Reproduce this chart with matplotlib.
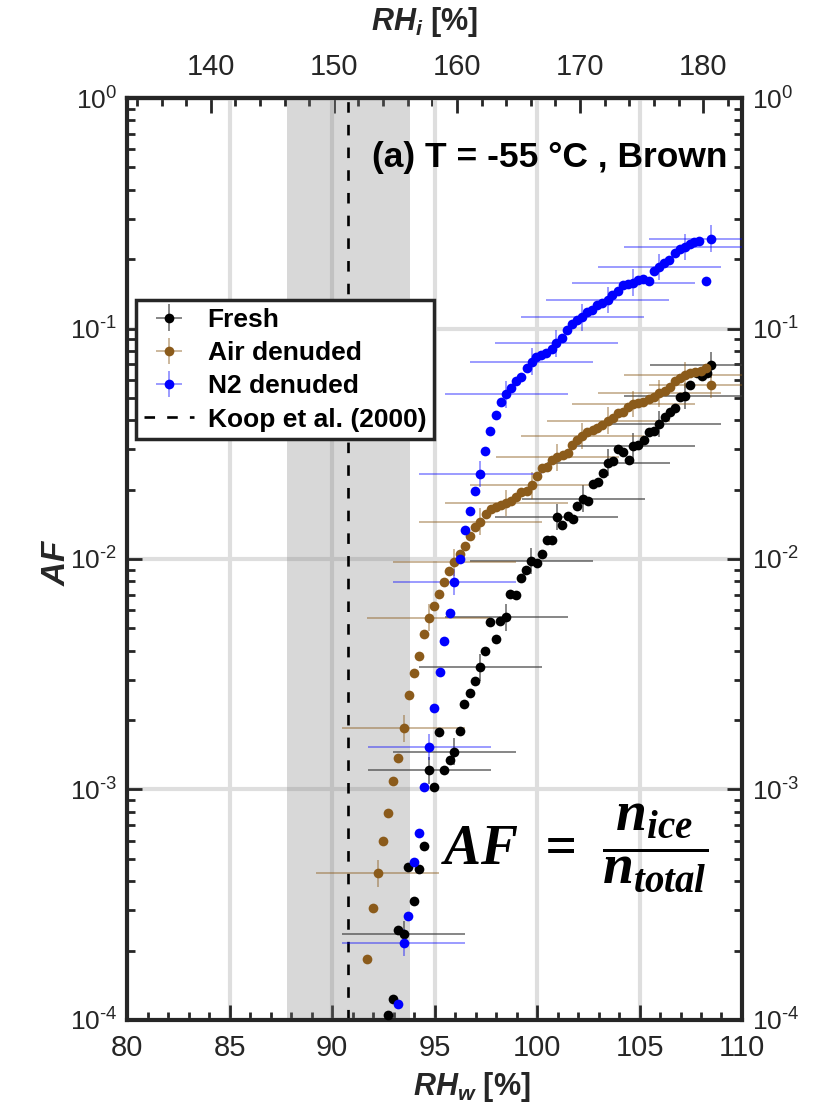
import numpy as np
import matplotlib
matplotlib.use('Agg')
import matplotlib.pyplot as plt
from matplotlib import font_manager
from matplotlib.ticker import (MultipleLocator, LogLocator, NullFormatter, FixedLocator,
                               FuncFormatter)

# ---- data ----
fresh_rhw = [92.73, 92.98, 93.22, 93.49, 93.73, 93.98, 94.25, 94.47, 94.74, 94.99,
             95.23, 95.48, 95.74, 95.96, 96.24, 96.45, 96.73, 96.99, 97.23, 97.47,
             97.72, 97.99, 98.21, 98.49, 98.70, 98.98, 99.22, 99.48, 99.71, 99.99,
             100.24, 100.49, 100.73, 100.97, 101.23, 101.51, 101.76, 101.95, 102.25, 102.49,
             102.74, 102.97, 103.22, 103.47, 103.71, 103.96, 104.20, 104.48, 104.69, 104.94,
             105.23, 105.46, 105.70, 105.97, 106.24, 106.49, 106.73, 106.98, 107.22, 107.46,
             107.79, 108.04, 108.28, 108.49]
fresh_af = [1.05e-4, 1.23e-4, 2.45e-4, 2.36e-4, 4.59e-4, 3.27e-4, 4.53e-4, 5.70e-4, 1.21e-3, 1.03e-3,
            1.78e-3, 1.22e-3, 1.34e-3, 1.46e-3, 1.80e-3, 2.34e-3, 2.61e-3, 2.97e-3, 3.39e-3, 4.00e-3,
            5.33e-3, 4.51e-3, 5.38e-3, 5.58e-3, 7.05e-3, 7.00e-3, 8.30e-3, 8.96e-3, 9.80e-3, 9.58e-3,
            1.05e-2, 1.21e-2, 1.21e-2, 1.52e-2, 1.40e-2, 1.53e-2, 1.49e-2, 1.69e-2, 1.83e-2, 1.78e-2,
            2.11e-2, 2.16e-2, 2.35e-2, 2.62e-2, 2.67e-2, 2.99e-2, 2.92e-2, 2.69e-2, 3.09e-2, 3.12e-2,
            3.28e-2, 3.57e-2, 3.60e-2, 3.85e-2, 4.14e-2, 4.36e-2, 4.51e-2, 5.06e-2, 5.10e-2, 5.69e-2,
            6.40e-2, 6.22e-2, 6.43e-2, 6.95e-2]

air_rhw = [91.72, 91.99, 92.24, 92.49, 92.74, 92.99, 93.24, 93.49, 93.75, 93.98,
           94.25, 94.47, 94.73, 94.99, 95.23, 95.47, 95.73, 95.97, 96.24, 96.50,
           96.75, 96.99, 97.23, 97.49, 97.74, 97.99, 98.23, 98.49, 98.73, 98.98,
           99.22, 99.50, 99.75, 99.99, 100.25, 100.50, 100.74, 100.99, 101.25, 101.50,
           101.72, 101.97, 102.21, 102.46, 102.71, 102.95, 103.19, 103.47, 103.71, 103.96,
           104.20, 104.45, 104.69, 104.94, 105.18, 105.46, 105.70, 105.97, 106.24, 106.49,
           106.73, 106.98, 107.22, 107.46, 107.71, 108.00, 108.25, 108.47]
air_af = [1.83e-4, 3.05e-4, 4.32e-4, 5.98e-4, 7.93e-4, 1.09e-3, 1.37e-3, 1.84e-3, 2.57e-3, 3.19e-3,
          3.80e-3, 4.71e-3, 5.56e-3, 6.27e-3, 7.07e-3, 7.97e-3, 8.91e-3, 9.68e-3, 1.05e-2, 1.14e-2,
          1.26e-2, 1.38e-2, 1.45e-2, 1.57e-2, 1.64e-2, 1.68e-2, 1.72e-2, 1.75e-2, 1.78e-2, 1.86e-2,
          1.95e-2, 1.98e-2, 2.09e-2, 2.29e-2, 2.49e-2, 2.51e-2, 2.69e-2, 2.76e-2, 2.83e-2, 2.87e-2,
          3.12e-2, 3.28e-2, 3.42e-2, 3.57e-2, 3.63e-2, 3.71e-2, 3.81e-2, 3.98e-2, 4.08e-2, 4.31e-2,
          4.35e-2, 4.58e-2, 4.70e-2, 4.73e-2, 4.81e-2, 4.93e-2, 5.06e-2, 5.24e-2, 5.37e-2, 5.60e-2,
          5.94e-2, 6.08e-2, 6.28e-2, 6.43e-2, 6.50e-2, 6.55e-2, 6.72e-2, 5.69e-2]

n2_rhw = [93.24, 93.49, 93.73, 93.98, 94.25, 94.47, 94.74, 94.99, 95.25, 95.47,
          95.74, 95.96, 96.24, 96.50, 96.73, 96.99, 97.22, 97.48, 97.72, 98.00,
          98.25, 98.49, 98.73, 98.98, 99.22, 99.52, 99.75, 99.96, 100.20, 100.45,
          100.73, 100.95, 101.23, 101.48, 101.71, 101.97, 102.20, 102.46, 102.69, 102.95,
          103.18, 103.44, 103.67, 103.93, 104.21, 104.45, 104.70, 104.94, 105.19, 105.46,
          105.72, 105.96, 106.21, 106.45, 106.73, 106.97, 107.22, 107.46, 107.68, 107.90,
          108.23, 108.47]
n2_af = [1.17e-4, 2.16e-4, 2.83e-4, 4.86e-4, 6.50e-4, 1.02e-3, 1.53e-3, 2.25e-3, 3.23e-3, 4.41e-3,
         5.81e-3, 7.94e-3, 1.00e-2, 1.34e-2, 1.61e-2, 1.97e-2, 2.34e-2, 2.95e-2, 3.60e-2, 4.21e-2,
         4.78e-2, 5.18e-2, 5.50e-2, 5.94e-2, 6.18e-2, 6.76e-2, 7.18e-2, 7.50e-2, 7.67e-2, 7.85e-2,
         8.13e-2, 8.63e-2, 9.14e-2, 9.90e-2, 0.1047, 0.109, 0.112, 0.118, 0.120, 0.1265,
         0.129, 0.133, 0.140, 0.146, 0.154, 0.156, 0.158, 0.162, 0.164, 0.160,
         0.178, 0.185, 0.192, 0.198, 0.213, 0.221, 0.226, 0.233, 0.237, 0.239,
         0.161, 0.245]

rhw_err = 3.0          # +/- RHw uncertainty
af_err_factor = 1.143  # multiplicative AF uncertainty
koop_rhw = 90.8
koop_band = (87.8, 93.8)
rhi_per_rhw = 1.665    # RHi / RHw at -55 C

rhw_ticks = [80, 85, 90, 95, 100, 105, 110]
rhi_ticks = [140, 150, 160, 170, 180]

# ---- fonts ----
installed = {f.name for f in font_manager.fontManager.ttflist}
if 'Liberation Sans Narrow' in installed:
    tick_font, tick_size, ytick_size = 'Liberation Sans Narrow', 25, 22
else:
    tick_font, tick_size, ytick_size = 'Liberation Sans', 21, 19

plt.rcParams['font.family'] = ['Liberation Sans', 'DejaVu Sans']
plt.rcParams['mathtext.fontset'] = 'custom'
plt.rcParams['mathtext.it'] = 'Liberation Sans:italic:bold'
plt.rcParams['mathtext.bf'] = 'Liberation Serif:italic:bold'
plt.rcParams['mathtext.rm'] = tick_font
plt.rcParams['mathtext.default'] = 'regular'
plt.rcParams['axes.unicode_minus'] = False

dark = '#262626'
brown = '#8B5B1B'


def decade_label(v, pos):
    e = int(round(np.log10(v)))
    if e < 0:
        return r'$\mathdefault{10^{\text{-}%d}}$' % (-e)
    return r'$\mathdefault{10^{%d}}$' % e


fig = plt.figure(figsize=(8.26, 11.09), dpi=100)
ax = fig.add_axes([0.1538, 0.0803, 0.7445, 0.8313])

ax.set_yscale('log')
ax.set_xlim(80, 110)
ax.set_ylim(1e-4, 1)

ax.set_axisbelow(True)
ax.grid(True, which='major', color='#dedede', lw=3)
ax.axvspan(koop_band[0], koop_band[1], color='gray', alpha=0.3, lw=0, zorder=1)

def plot_series(x, y, color, ecolor, start, label):
    x = np.array(x)
    y = np.array(y)
    yerr = [y - y / af_err_factor, y * af_err_factor - y]
    return ax.errorbar(x, y, xerr=rhw_err, yerr=yerr, fmt='o', ms=7, mfc=color, mec=color,
                       mew=0, ecolor=ecolor, elinewidth=1.1, capsize=0,
                       errorevery=(start, 5), label=label, zorder=3)

h1 = plot_series(fresh_rhw, fresh_af, 'black', (0.25, 0.25, 0.25, 0.8), 3, 'Fresh')
h2 = plot_series(air_rhw, air_af, brown, (0.545, 0.357, 0.106, 0.55), 2, 'Air denuded')
h3 = plot_series(n2_rhw, n2_af, '#0000FF', (0.0, 0.0, 1.0, 0.5), 1, 'N2 denuded')
h4 = ax.axvline(koop_rhw, color='black', ls=(0, (4, 4.6)), lw=1.9, zorder=2,
                label='Koop et al. (2000)')

# ---- axes styling ----
for s in ax.spines.values():
    s.set_linewidth(3)
    s.set_color(dark)

ax.xaxis.set_major_locator(FixedLocator(rhw_ticks))
ax.xaxis.set_minor_locator(MultipleLocator(1))
ax.yaxis.set_major_locator(LogLocator(base=10, numticks=10))
ax.yaxis.set_major_formatter(FuncFormatter(decade_label))
ax.yaxis.set_minor_locator(LogLocator(base=10, subs=np.arange(2, 10), numticks=20))
ax.yaxis.set_minor_formatter(NullFormatter())

ax.tick_params(which='both', direction='in', colors=dark, top=False,
               left=True, right=True, labelright=True)
ax.tick_params(which='major', length=11, width=2)
ax.tick_params(which='minor', length=5.5, width=2)
ax.tick_params(axis='x', pad=10)
ax.tick_params(axis='y', pad=7)
for lab in ax.get_xticklabels():
    lab.set_fontfamily(tick_font)
    lab.set_fontsize(tick_size)
for lab in ax.get_yticklabels():
    lab.set_fontfamily(tick_font)
    lab.set_fontsize(ytick_size)

sec = ax.secondary_xaxis('top', functions=(lambda x: x * rhi_per_rhw, lambda x: x / rhi_per_rhw))
sec.xaxis.set_major_locator(FixedLocator(rhi_ticks))
sec.xaxis.set_minor_locator(MultipleLocator(2))
sec.tick_params(which='both', direction='in', colors=dark, pad=12)
sec.tick_params(which='major', length=11, width=2)
sec.tick_params(which='minor', length=5.5, width=2)
sec.spines['top'].set_linewidth(3)
sec.spines['top'].set_color(dark)
for lab in sec.get_xticklabels():
    lab.set_fontfamily(tick_font)
    lab.set_fontsize(tick_size)

# ---- labels ----
ax.text(0.561, -0.073, r'$\mathit{RH}_{\mathit{w}}$ [%]', transform=ax.transAxes,
        ha='center', va='center', fontsize=22, fontweight='bold', color=dark)
ax.text(0.484, 1.083, r'$\mathit{RH}_{\mathit{i}}$ [%]', transform=ax.transAxes,
        ha='center', va='center', fontsize=22, fontweight='bold', color=dark)
ax.text(-0.114, 0.497, r'$\mathit{AF}$', transform=ax.transAxes, rotation=90,
        ha='center', va='center', fontsize=24, fontweight='bold', color=dark)

ax.text(0.977, 0.935, '(a) T = -55 °C , Brown', transform=ax.transAxes,
        ha='right', va='center', fontsize=25.5, fontweight='bold', color='black')

ax.text(0.728, 0.187,
        r'$\mathbf{AF}\ \mathbf{=}\ \dfrac{\mathbf{n}_{\mathbf{ice}}}{\mathbf{n}_{\mathbf{total}}}$',
        transform=ax.transAxes, ha='center', va='center', fontsize=40, color='black')

leg = ax.legend(handles=[h1, h2, h3, h4], loc='upper left', bbox_to_anchor=(0.015, 0.781),
                prop={'weight': 'bold', 'size': 19}, frameon=True, fancybox=False,
                edgecolor=dark, framealpha=1, borderpad=0.3, labelspacing=0.35,
                handlelength=1.9, handletextpad=0.5, borderaxespad=0)
leg.get_frame().set_linewidth(2.5)
leg.set_zorder(5)

fig.savefig('out.png', dpi=100)
